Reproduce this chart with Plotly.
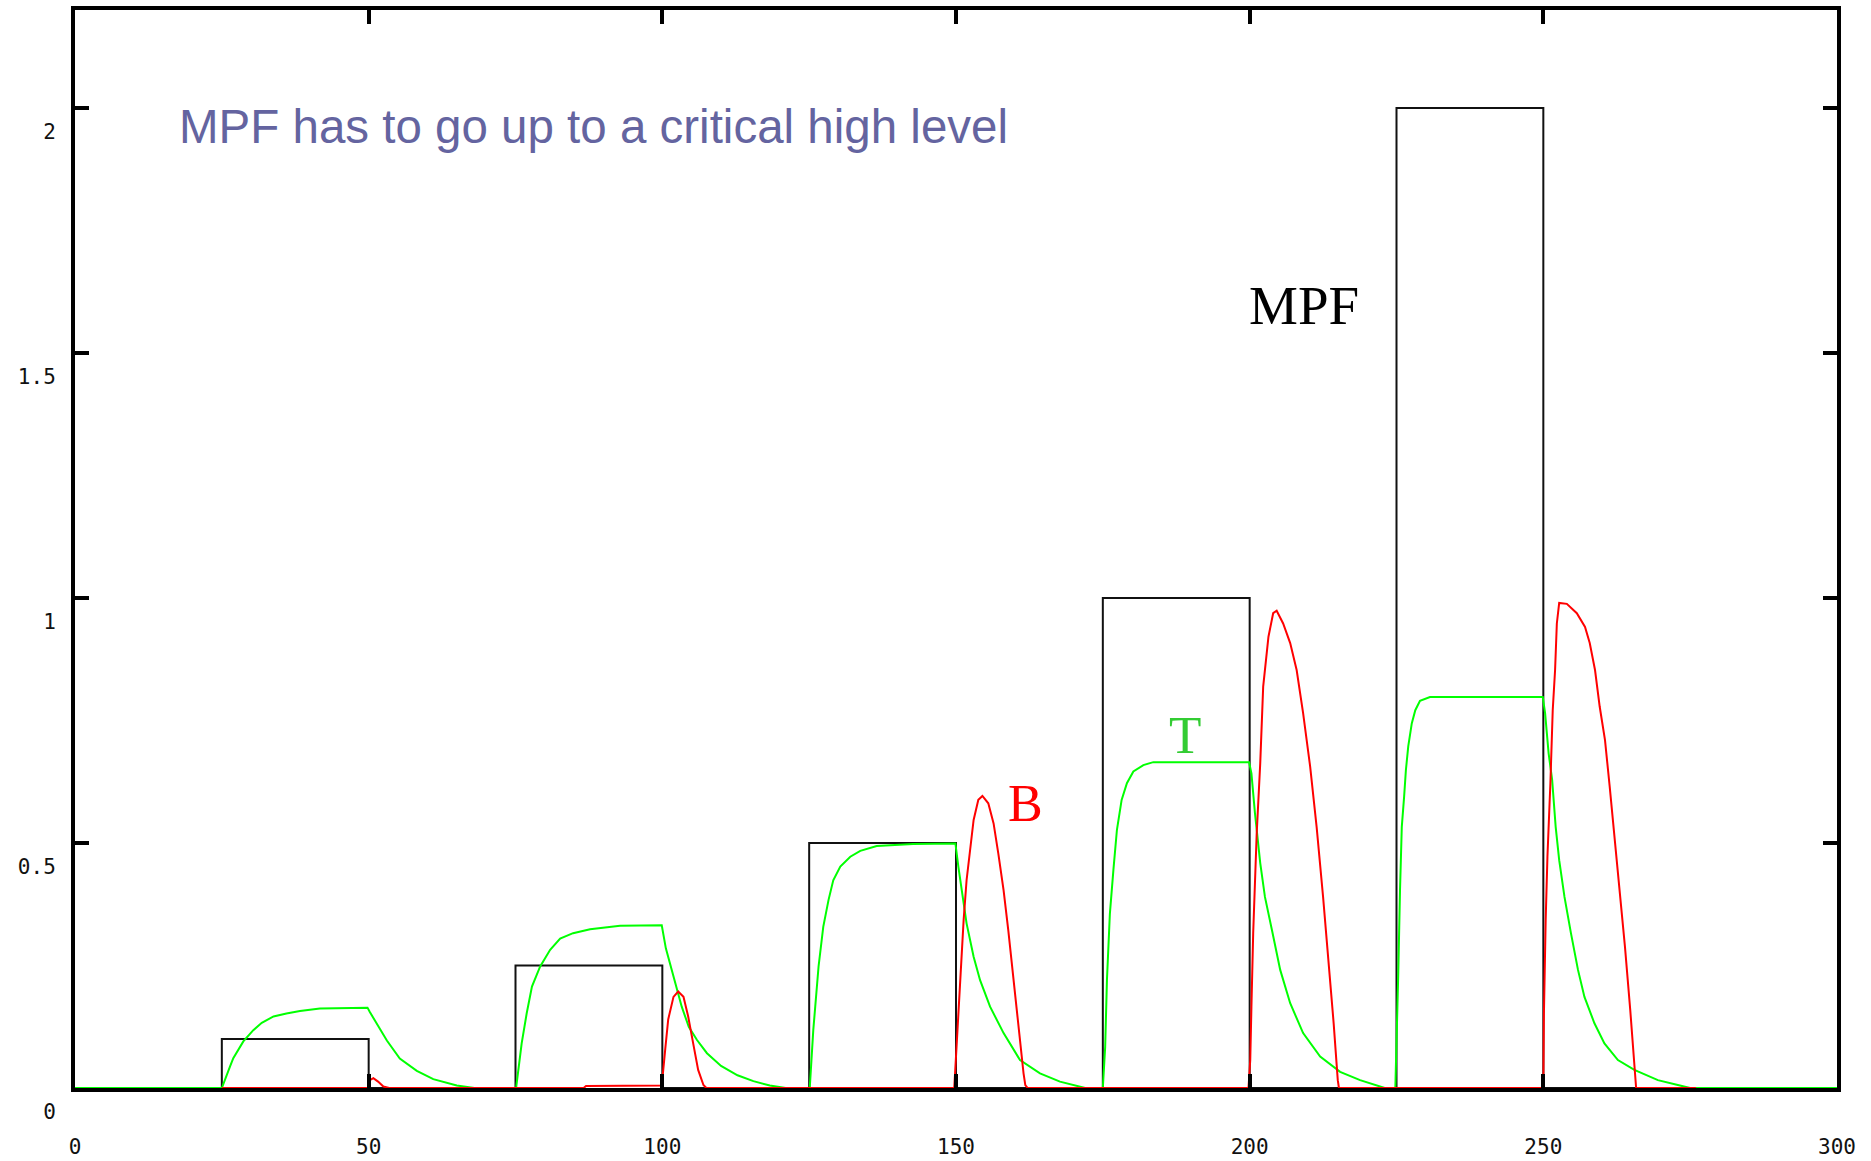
import plotly.graph_objects as go

# MPF input (step levels, held from each breakpoint)
mpf_t = [0, 25, 50, 75, 100, 125, 150, 175, 200, 225, 250, 300]
mpf_v = [0, 0.1, 0, 0.25, 0, 0.5, 0, 1.0, 0, 2.0, 0, 0]

# T (green)
t_t = [0, 25.0, 26.4, 26.95, 28.66, 30.36, 31.8, 33.8, 36.0, 38.3, 41.7, 49.8,
       50.2, 51.4, 53.1, 55.3, 58.2, 61.0, 65.0, 68.0,
       75.1, 76.05, 76.9, 77.8, 79.2, 80.9, 82.6, 84.8, 87.7, 92.8, 99.9,
       100.6, 101.3, 102.5, 103.3, 104.5, 105.9, 107.6, 110.0, 112.8, 115.5, 118.3, 121.0,
       125.1, 125.7, 126.6, 127.4, 128.3, 129.1, 130.3, 132.0, 133.7, 136.5, 142.7, 149.9,
       150.4, 151.0, 151.8, 153.0, 154.1, 155.8, 158.1, 160.9, 164.3, 167.7, 170.5, 172.0,
       175.0, 175.4, 175.7, 176.2, 176.8, 177.4, 178.2, 179.1, 180.2, 181.9, 183.6, 199.9,
       200.3, 200.9, 201.8, 202.6, 203.8, 205.2, 206.9, 209.1, 212.0, 215.4, 218.8, 221.6, 223.0,
       224.8, 225.0, 225.3, 225.6, 225.9, 226.3, 226.6, 227.0, 227.6, 228.2, 229.0, 230.7, 249.9,
       250.3, 250.9, 251.5, 252.1, 252.7, 253.6, 254.7, 255.9, 257.0, 258.7, 260.4, 262.7,
       265.5, 269.5, 272.9, 275.0, 300.0]
t_v = [0, 0, 0.044, 0.061, 0.095, 0.118, 0.133, 0.146, 0.152, 0.157, 0.162, 0.164,
       0.155, 0.132, 0.097, 0.060, 0.035, 0.018, 0.005, 0,
       0, 0.091, 0.152, 0.207, 0.248, 0.282, 0.305, 0.316, 0.324, 0.331, 0.332,
       0.285, 0.255, 0.200, 0.166, 0.125, 0.098, 0.071, 0.045, 0.026, 0.014, 0.005, 0,
       0, 0.118, 0.248, 0.329, 0.384, 0.424, 0.452, 0.472, 0.484, 0.494, 0.498, 0.499,
       0.452, 0.404, 0.336, 0.268, 0.220, 0.166, 0.112, 0.057, 0.030, 0.013, 0.004, 0,
       0, 0.084, 0.220, 0.356, 0.445, 0.527, 0.588, 0.622, 0.646, 0.659, 0.665, 0.665,
       0.642, 0.561, 0.459, 0.390, 0.322, 0.241, 0.173, 0.112, 0.064, 0.033, 0.016, 0.006, 0,
       0, 0.084, 0.234, 0.404, 0.533, 0.595, 0.649, 0.697, 0.744, 0.771, 0.790, 0.798, 0.798,
       0.765, 0.683, 0.629, 0.533, 0.465, 0.390, 0.316, 0.241, 0.186, 0.132, 0.091, 0.057,
       0.037, 0.016, 0.006, 0, 0]

# B (red)
b_t = [25.0, 49.9, 50.2, 50.8, 51.6, 52.5, 53.5,
       86.6, 87.0, 99.9, 100.5, 101.0, 101.9, 102.7, 103.6, 104.4, 105.3, 106.1, 107.0, 107.5,
       149.7, 150.1, 150.7, 151.3, 151.8, 152.4, 153.0, 153.8, 154.5, 155.5, 156.4, 157.2,
       158.1, 158.9, 159.8, 160.6, 161.5, 161.8, 162.2,
       199.8, 200.1, 200.3, 200.6, 201.2, 201.8, 202.3, 203.2, 204.0, 204.6, 205.7, 206.9,
       208.0, 209.1, 210.3, 211.4, 212.5, 213.4, 214.3, 215.0, 215.2,
       250.0, 250.1, 250.4, 250.7, 251.2, 251.6, 252.0, 252.3, 252.7, 254.0, 255.7, 257.1,
       257.9, 258.8, 259.6, 260.5, 261.3, 262.2, 263.0, 263.9, 264.8, 265.6, 265.8, 276.0]
b_v = [0, 0, 0.016, 0.020, 0.013, 0.003, 0,
       0, 0.004, 0.005, 0.080, 0.140, 0.186, 0.197, 0.186, 0.146, 0.088, 0.037, 0.006, 0,
       0, 0.084, 0.220, 0.343, 0.424, 0.492, 0.547, 0.588, 0.596, 0.581, 0.540, 0.479,
       0.404, 0.322, 0.220, 0.118, 0.030, 0.006, 0,
       0, 0.057, 0.166, 0.316, 0.520, 0.663, 0.819, 0.921, 0.969, 0.974, 0.948, 0.908,
       0.853, 0.765, 0.656, 0.533, 0.390, 0.268, 0.132, 0.016, 0,
       0, 0.152, 0.343, 0.472, 0.622, 0.771, 0.853, 0.948, 0.990, 0.988, 0.969, 0.941,
       0.908, 0.853, 0.778, 0.710, 0.615, 0.506, 0.411, 0.288, 0.159, 0.043, 0, 0]

x_ticks = [0, 50, 100, 150, 200, 250, 300]
x_tick_text = ["0", "50", "100", "150", "200", "250", "300"]
y_ticks = [0, 0.5, 1, 1.5, 2]
y_tick_text = ["0", "0.5", "1", "1.5", "2"]

title_text = "MPF has to go up to a critical high level"
labels = ["MPF", "T", "B"]

fig = go.Figure()
fig.add_trace(go.Scatter(x=mpf_t, y=mpf_v, mode="lines", line_shape="hv",
                         line=dict(color="#111111", width=2), name="MPF"))
fig.add_trace(go.Scatter(x=t_t, y=t_v, mode="lines",
                         line=dict(color="#00ff00", width=2), name="T"))
fig.add_trace(go.Scatter(x=b_t, y=b_v, mode="lines",
                         line=dict(color="#ff0000", width=2), name="B"))

tickfont = dict(family="DejaVu Sans Mono", size=21, color="#111111")
fig.update_xaxes(range=[0, 300], tickvals=x_ticks, ticktext=x_tick_text,
                 ticks="inside", ticklen=14, tickwidth=3.5, tickcolor="black",
                 showline=True, linewidth=4, linecolor="black", mirror="ticks",
                 showgrid=False, zeroline=False, tickfont=tickfont,
                 ticklabelstandoff=37, automargin=False)
fig.update_yaxes(range=[0, 2.2], tickvals=y_ticks, ticktext=y_tick_text,
                 ticks="inside", ticklen=14, tickwidth=3.5, tickcolor="black",
                 showline=True, linewidth=4, linecolor="black", mirror="ticks",
                 showgrid=False, zeroline=False, tickfont=tickfont,
                 ticklabelstandoff=11, ticklabelshift=24, automargin=False)

fig.add_annotation(x=17.4, y=1.962, xref="x", yref="y", text=title_text,
                   showarrow=False, xanchor="left", yanchor="middle",
                   font=dict(family="Liberation Sans", size=47.5, color="#6464a0"))
fig.add_annotation(x=209.2, y=1.597, xref="x", yref="y", text=labels[0],
                   showarrow=False, xanchor="center", yanchor="middle",
                   font=dict(family="Liberation Serif", size=55, color="black"))
fig.add_annotation(x=189.0, y=0.721, xref="x", yref="y", text=labels[1],
                   showarrow=False, xanchor="center", yanchor="middle",
                   font=dict(family="Liberation Serif", size=53, color="#33cc33"))
fig.add_annotation(x=161.8, y=0.58, xref="x", yref="y", text=labels[2],
                   showarrow=False, xanchor="center", yanchor="middle",
                   font=dict(family="Liberation Serif", size=52, color="#ff0000"))

fig.update_layout(width=1871, height=1161, margin=dict(l=75, r=34, t=10, b=73),
                  plot_bgcolor="white", paper_bgcolor="white", showlegend=False)

fig.write_html("out.html")
